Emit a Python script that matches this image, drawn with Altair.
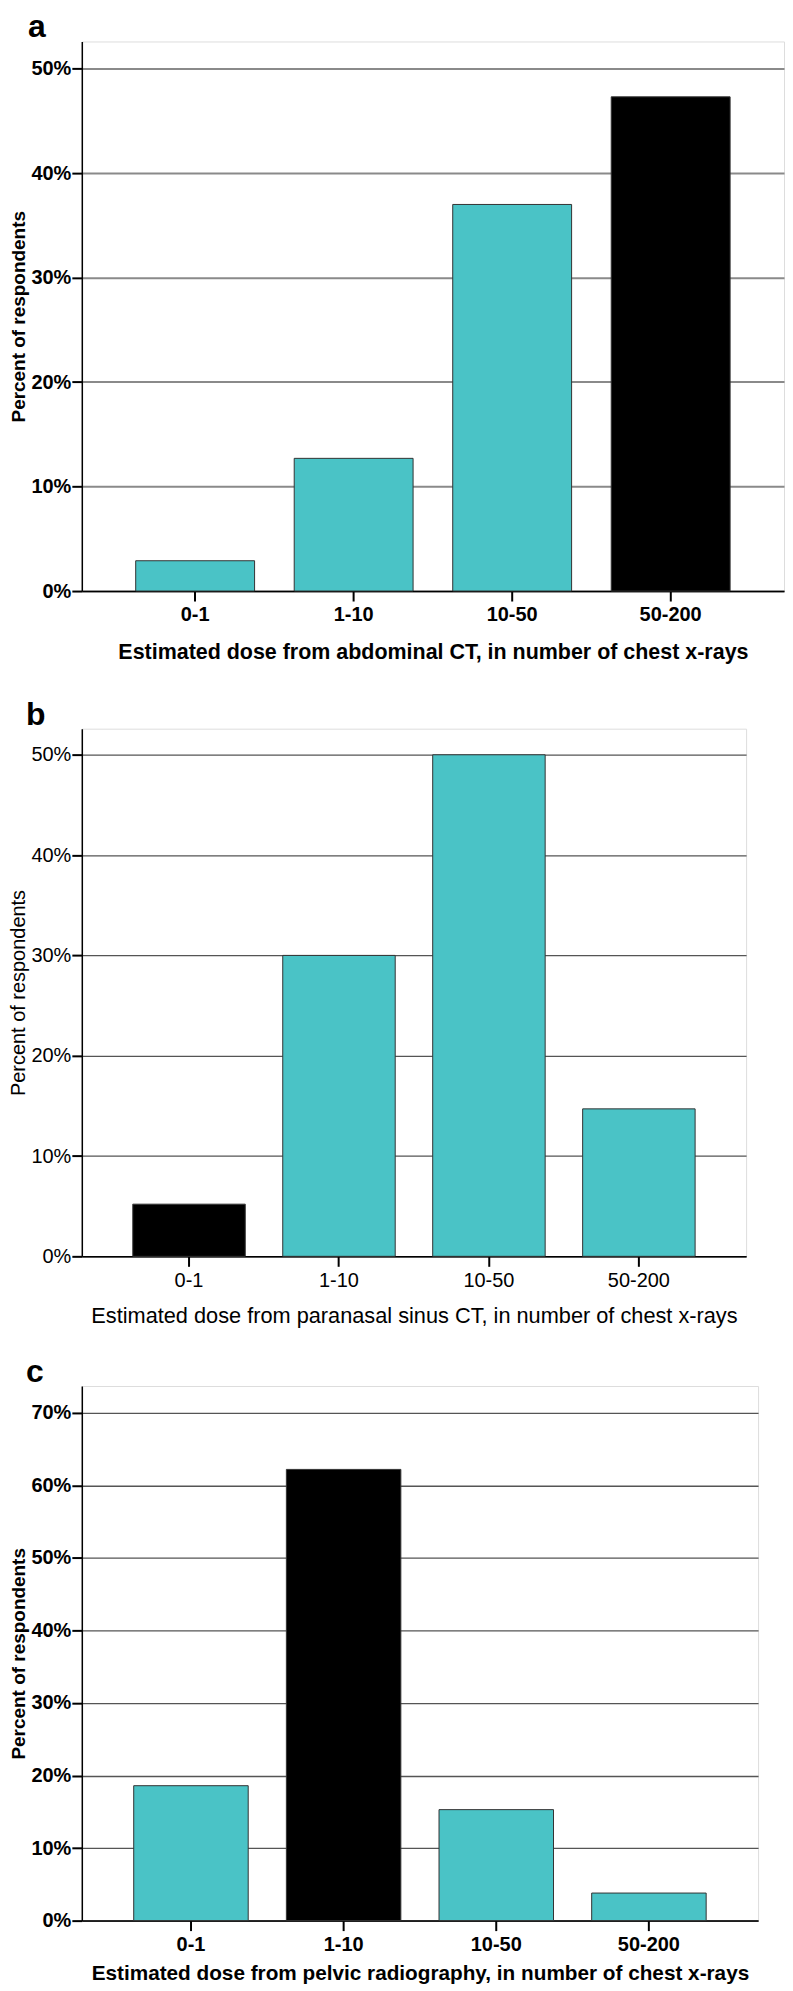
import altair as alt
import pandas as pd

categories = ["0-1", "1-10", "10-50", "50-200"]

a_values = [2.9, 12.7, 37.0, 47.3]
b_values = [5.2, 30.0, 50.0, 14.7]
c_values = [18.6, 62.2, 15.3, 3.8]

a_highlight = "50-200"
b_highlight = "0-1"
c_highlight = "1-10"

a_title = "Estimated dose from abdominal CT, in number of chest x-rays"
b_title = "Estimated dose from paranasal sinus CT, in number of chest x-rays"
c_title = "Estimated dose from pelvic radiography, in number of chest x-rays"

y_title = "Percent of respondents"
a_ticks = [0, 10, 20, 30, 40, 50]
b_ticks = [0, 10, 20, 30, 40, 50]
c_ticks = [0, 10, 20, 30, 40, 50, 60, 70]

TEAL = "#4AC3C6"
FONT = "Liberation Sans"


def panel(letter, values, highlight, xtitle, ticks, ymax, width, height,
          weight, dx, xtitle_size, ytitle_size, ext, ytp, xtp,
          grid_color, grid_width):
    df = pd.DataFrame({
        "cat": categories,
        "pct": values,
        "grp": ["hl" if c == highlight else "other" for c in categories],
    })
    return alt.Chart(df).mark_bar(stroke="#333333", strokeWidth=1).encode(
        x=alt.X("cat:N", sort=categories,
                scale=alt.Scale(paddingInner=0.25, paddingOuter=0.34),
                axis=alt.Axis(title=xtitle, labelAngle=0, labelFont=FONT,
                              labelFontSize=20, labelFontWeight=weight,
                              titleFont=FONT, titleFontSize=xtitle_size,
                              titleFontWeight=weight, labelColor="black",
                              titleColor="black", domainColor="black",
                              domainWidth=1.5, tickColor="black", tickWidth=2,
                              tickSize=10, labelPadding=4, titlePadding=xtp,
                              grid=False)),
        y=alt.Y("pct:Q",
                scale=alt.Scale(domain=[0, ymax], nice=False, zero=True),
                axis=alt.Axis(title=y_title, values=ticks,
                              labelExpr="datum.value + '%'",
                              labelFont=FONT, labelFontSize=20,
                              labelFontWeight=weight, titleFont=FONT,
                              titleFontSize=ytitle_size, titleFontWeight=weight,
                              labelColor="black", titleColor="black",
                              domainColor="black", domainWidth=1.5,
                              tickColor="black", tickWidth=2, tickSize=10,
                              labelPadding=1, titlePadding=ytp,
                              minExtent=ext, maxExtent=ext,
                              grid=True, gridColor=grid_color,
                              gridWidth=grid_width)),
        color=alt.Color("grp:N",
                        scale=alt.Scale(domain=["hl", "other"],
                                        range=["#000000", TEAL]),
                        legend=None),
    ).properties(
        width=width, height=height,
        title=alt.TitleParams(text=letter, anchor="start", frame="group",
                              fontSize=32, fontWeight="bold", font=FONT,
                              color="black", dx=dx, offset=-3),
    )


pa = panel("a", a_values, a_highlight, a_title, a_ticks, 52.6, 704, 551,
           "bold", -54, 21.5, 19, 53, 0, 17, "#8a8a8a", 2)
pb = panel("b", b_values, b_highlight, b_title, b_ticks, 52.6, 666, 529,
           "normal", -56, 21.8, 20, 53, 0, 15, "#555555", 1.3)
pc = panel("c", c_values, c_highlight, c_title, c_ticks, 73.7, 678, 536,
           "bold", -56, 20.8, 19, 53, 0, 9, "#555555", 1.3)

lower = alt.vconcat(pb, pc, spacing=27)
chart = alt.vconcat(pa, lower, spacing=34).properties(
    padding={"top": 0, "left": 0, "right": 0, "bottom": 0}
).configure_view(
    stroke="black", strokeWidth=1.5
).configure(background="white")

chart.save("out.html", embed_options={"renderer": "svg", "actions": False})
